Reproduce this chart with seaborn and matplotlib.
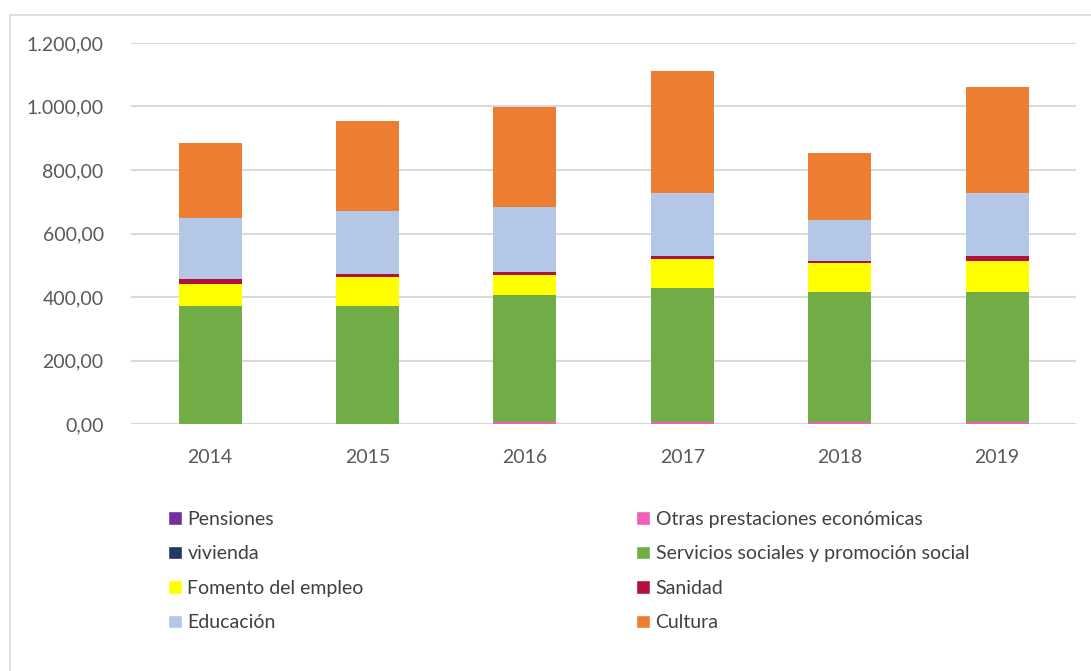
import pandas as pd
import numpy as np
import matplotlib
matplotlib.use("Agg")
import matplotlib.pyplot as plt
import matplotlib.ticker as ticker
from matplotlib.patches import Patch, Rectangle
import seaborn as sns

years = ["2014", "2015", "2016", "2017", "2018", "2019"]

pensiones = [0, 0, 0, 0, 0, 0]
otras = [0, 0, 6, 6, 6, 6]
vivienda = [0, 0, 0, 0, 0, 0]
servicios = [372, 372, 400, 421, 409, 409]
fomento = [70, 92, 64, 94, 91, 98]
sanidad = [15, 8, 9, 8, 7, 16]
educacion = [192, 198, 205, 198, 129, 198]
cultura = [235, 284, 313, 384, 213, 334]

series = ["Pensiones", "Otras prestaciones económicas", "vivienda",
          "Servicios sociales y promoción social", "Fomento del empleo",
          "Sanidad", "Educación", "Cultura"]
values = [pensiones, otras, vivienda, servicios, fomento, sanidad, educacion, cultura]
colors = ["#7030A0", "#F060B8", "#1F3864", "#70AD47", "#FFFF00",
          "#B0123F", "#B4C7E7", "#ED7D31"]

df = pd.DataFrame(dict(zip(series, values)), index=years)
cum = df.cumsum(axis=1)

sns.set_style("white")
plt.rcParams["font.family"] = ["Lato", "DejaVu Sans"]

fig = plt.figure(figsize=(10.91, 6.71), dpi=100)
ax = fig.add_axes([0.1205, 0.368, 0.8655, 0.568])

# stacked bars: draw cumulative totals from top layer down
for name, col in reversed(list(zip(series, colors))):
    d = pd.DataFrame({"year": years, "val": cum[name].values})
    sns.barplot(data=d, x="year", y="val", color=col, width=0.4,
                saturation=1, linewidth=0, ax=ax, zorder=3)

ax.set_ylim(0, 1200)
ax.set_yticks(np.arange(0, 1201, 200))
ax.yaxis.set_major_formatter(ticker.FuncFormatter(
    lambda v, p: "{:,.2f}".format(v).replace(",", "X").replace(".", ",").replace("X", ".")))
ax.grid(axis="y", color="#D9D9D9", linewidth=1.5, zorder=0)
ax.set_axisbelow(True)
for s in ax.spines.values():
    s.set_visible(False)
ax.tick_params(axis="both", length=0, labelsize=14, labelcolor="#595959")
ax.tick_params(axis="y", pad=20)
ax.tick_params(axis="x", pad=18)
ax.set_xlabel("")
ax.set_ylabel("")

handles = [Patch(facecolor=c, label=n) for n, c in zip(series, colors)]
order = [0, 2, 4, 6, 1, 3, 5, 7]
leg = fig.legend([handles[i] for i in order], [series[i] for i in order],
                 ncol=2, loc="upper left", bbox_to_anchor=(0.154, 0.239),
                 frameon=False, fontsize=14, handlelength=0.7, handleheight=0.7,
                 handletextpad=0.3, columnspacing=14.0, labelspacing=0.9,
                 borderaxespad=0, borderpad=0)
for t in leg.get_texts():
    t.set_color("#404040")

# chart area border (only top and left edges fall inside the picture)
fig.add_artist(Rectangle((10 / 1091, -0.05), 1.05, 1.05 - 15 / 671,
                         transform=fig.transFigure, fill=False,
                         edgecolor="#D9D9D9", linewidth=1.2))

fig.savefig("out.png", dpi=100)
